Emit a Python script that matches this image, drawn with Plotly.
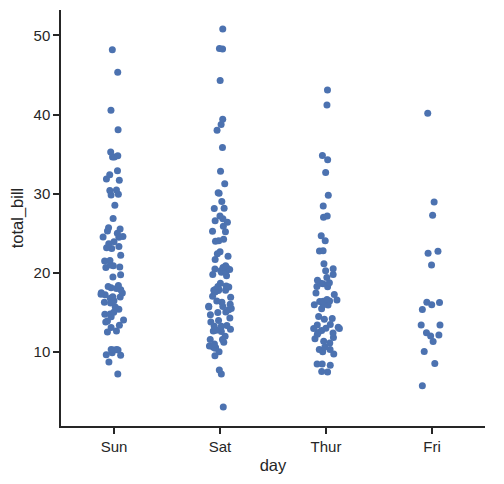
import plotly.graph_objects as go

day_order = ["Sun", "Sat", "Thur", "Fri"]

# total_bill per day (tips)
sun_bill = [16.99, 10.34, 21.01, 23.68, 24.59, 25.29, 8.77, 26.88, 15.04, 14.78,
            10.27, 35.26, 15.42, 18.43, 14.83, 21.58, 10.33, 16.29, 16.97,
            17.46, 13.94, 9.68, 30.40, 18.29, 22.23, 32.40, 28.55, 18.04, 12.54,
            10.29, 34.81, 9.94, 25.56, 19.49,
            38.07, 23.95, 25.71, 17.31, 29.93,
            14.07, 13.13, 17.26, 24.55, 19.77, 29.85, 48.17, 25.00, 13.39, 16.49,
            21.50, 12.66, 16.21, 13.81, 17.51, 24.52, 20.76, 31.71,
            7.25, 31.85, 16.82, 32.90, 17.89, 14.48, 9.60, 34.63, 34.65, 23.33,
            45.35, 23.17, 40.55, 20.69, 20.90, 30.46, 18.15, 23.10, 15.69]
sat_bill = [20.65, 17.92, 20.29, 15.77, 39.42, 19.82, 17.81, 13.37, 12.69, 21.70,
            19.65, 9.55, 18.35, 15.06, 20.69, 17.78, 24.06, 16.31, 16.93, 18.69,
            31.27, 16.04,
            38.01, 26.41, 11.24, 48.27, 20.29, 13.81, 11.02, 18.29, 17.59, 20.08,
            16.45, 3.07, 20.23, 15.01, 12.02, 17.07, 26.86, 25.28, 14.73, 10.51,
            17.92,
            44.30, 22.42, 20.92, 15.36, 20.49, 25.21, 18.24, 14.31, 14.00, 7.25,
            10.59, 10.63, 50.81, 15.81,
            26.59, 38.73, 24.27, 12.76, 30.06, 25.89, 48.33, 13.27, 28.17, 12.90,
            28.15, 11.59, 7.74, 30.14,
            20.45, 13.28, 22.12, 24.01, 15.69, 11.61, 10.77, 15.53, 10.07, 12.60,
            32.83, 35.83, 29.03, 27.18, 22.67, 17.82]
thur_bill = [27.20, 22.76, 17.29, 19.44, 16.66, 10.07, 32.68, 15.98, 34.83, 13.03,
             18.28, 24.71, 21.16,
             10.65, 12.43, 24.08, 11.69, 13.42, 14.26, 15.95, 12.48, 29.80, 8.52,
             14.52, 11.38, 22.82, 19.08, 20.27, 11.17, 12.26, 18.26, 8.51, 10.33,
             14.15, 16.00, 13.16, 17.47, 34.30, 41.19, 27.05, 16.43, 8.35, 18.64,
             11.87, 9.78, 7.51,
             19.81, 28.44, 15.48, 16.58, 7.56, 10.34, 43.11, 13.00, 13.51, 18.71,
             12.74, 13.00, 16.40, 20.53, 16.47,
             18.78]
fri_bill = [28.97, 22.49, 5.75, 16.32, 22.75, 40.17, 27.28, 12.03, 21.01, 12.46,
            11.35, 15.38,
            12.16, 13.42, 8.58, 15.98, 13.42, 16.27, 10.09]

y_ticks = [10, 20, 30, 40, 50]

bills = [sun_bill, sat_bill, thur_bill, fri_bill]
xs = []
ys = []
for d, vals in zip(day_order, bills):
    xs += [d] * len(vals)
    ys += vals

fig = go.Figure()

# caixa invisivel, so os pontos com jitter
fig.add_trace(go.Box(
    x=xs,
    y=ys,
    boxpoints="all",
    jitter=1,
    pointpos=0,
    width=0.28,
    fillcolor="rgba(0,0,0,0)",
    line=dict(width=0, color="rgba(0,0,0,0)"),
    whiskerwidth=0,
    marker=dict(color="#4C72B0", size=7, line=dict(width=0)),
    hoveron="points",
    showlegend=False
))

axis_style = dict(
    showline=True,
    linecolor="#262626",
    linewidth=1.5,
    ticks="outside",
    ticklen=6,
    tickwidth=1.5,
    tickcolor="#262626",
    showgrid=False,
    zeroline=False,
    automargin=False,
    tickfont=dict(family="Liberation Sans, Arial", size=15, color="#262626"),
    title_font=dict(family="Liberation Sans, Arial", size=16.5, color="#262626"),
)

# a pagina tem margem de 8px no body, por isso a figura e menor
fig.update_layout(
    width=496,
    height=476,
    plot_bgcolor="white",
    paper_bgcolor="white",
    margin=dict(l=53, r=19, t=2, b=58),
    xaxis=dict(
        title=dict(text="day", standoff=6),
        type="category",
        categoryorder="array",
        categoryarray=day_order,
        range=[-0.5, 3.5],
        **axis_style
    ),
    yaxis=dict(
        title=dict(text="total_bill", standoff=8),
        range=[0.6835, 53.197],
        tickvals=y_ticks,
        **axis_style
    ),
)

fig.write_html("out.html")
